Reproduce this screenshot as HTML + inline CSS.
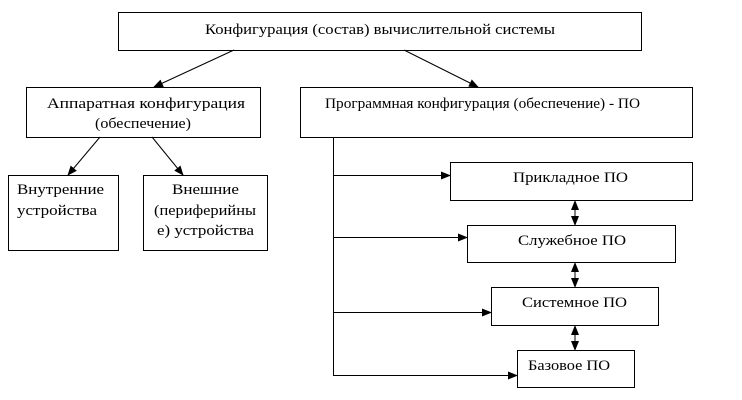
<!DOCTYPE html>
<html><head><meta charset="utf-8"><style>html,body{margin:0;padding:0;background:#fff}svg{display:block}text{font-family:"Liberation Serif",serif;font-size:15px;fill:#000}</style></head>
<body>
<svg width="742" height="400" viewBox="0 0 742 400" xmlns="http://www.w3.org/2000/svg">
<defs><marker id="a" markerWidth="10" markerHeight="8" refX="9" refY="4" orient="auto" markerUnits="userSpaceOnUse"><path d="M0,0 L10,4 L0,8 z" fill="#000"/></marker>
<marker id="s" markerWidth="10" markerHeight="8" refX="1" refY="4" orient="auto" markerUnits="userSpaceOnUse"><path d="M10,0 L0,4 L10,8 z" fill="#000"/></marker></defs>
<g fill="none" stroke="#000" stroke-width="1">
<rect x="118.5" y="12.5" width="523" height="38"/>
<rect x="26.5" y="87.5" width="234" height="50"/>
<rect x="300.5" y="87.5" width="392" height="50"/>
<rect x="8.5" y="175.5" width="110" height="75"/>
<rect x="143.5" y="175.5" width="124" height="75"/>
<rect x="450.5" y="162.5" width="242" height="38"/>
<rect x="467.5" y="225.5" width="208" height="37"/>
<rect x="491.5" y="287.5" width="167" height="38"/>
<rect x="517.5" y="350.5" width="117" height="37"/>
<line x1="234" y1="50" x2="154" y2="87" marker-end="url(#a)"/>
<line x1="404" y1="50" x2="478" y2="87" marker-end="url(#a)"/>
<line x1="100" y1="137" x2="68" y2="175" marker-end="url(#a)"/>
<line x1="152" y1="137" x2="183" y2="175" marker-end="url(#a)"/>
<line x1="333.5" y1="137" x2="333.5" y2="375.5"/>
<line x1="333" y1="175.5" x2="450" y2="175.5" marker-end="url(#a)"/>
<line x1="333" y1="237.5" x2="467" y2="237.5" marker-end="url(#a)"/>
<line x1="333" y1="312.5" x2="491" y2="312.5" marker-end="url(#a)"/>
<line x1="333" y1="375.5" x2="517" y2="375.5" marker-end="url(#a)"/>
<line x1="575" y1="201" x2="575" y2="225" marker-start="url(#s)" marker-end="url(#a)"/>
<line x1="575" y1="263" x2="575" y2="287" marker-start="url(#s)" marker-end="url(#a)"/>
<line x1="575" y1="326" x2="575" y2="350" marker-start="url(#s)" marker-end="url(#a)"/>
</g>
<g>
<text x="205" y="34" textLength="350" lengthAdjust="spacingAndGlyphs">Конфигурация (состав) вычислительной системы</text>
<text x="47" y="108" textLength="198" lengthAdjust="spacingAndGlyphs">Аппаратная конфигурация</text>
<text x="95" y="128" textLength="96" lengthAdjust="spacingAndGlyphs">(обеспечение)</text>
<text x="325" y="108" textLength="315" lengthAdjust="spacingAndGlyphs">Программная конфигурация (обеспечение) - ПО</text>
<text x="17" y="194" textLength="87" lengthAdjust="spacingAndGlyphs">Внутренние</text>
<text x="17" y="215" textLength="80" lengthAdjust="spacingAndGlyphs">устройства</text>
<text x="172" y="194" textLength="67" lengthAdjust="spacingAndGlyphs">Внешние</text>
<text x="154" y="215" textLength="102" lengthAdjust="spacingAndGlyphs">(периферийны</text>
<text x="157" y="235" textLength="97" lengthAdjust="spacingAndGlyphs">е) устройства</text>
<text x="513" y="182" textLength="115" lengthAdjust="spacingAndGlyphs">Прикладное ПО</text>
<text x="518" y="245" textLength="108" lengthAdjust="spacingAndGlyphs">Служебное ПО</text>
<text x="522" y="307" textLength="105" lengthAdjust="spacingAndGlyphs">Системное ПО</text>
<text x="528" y="370" textLength="82" lengthAdjust="spacingAndGlyphs">Базовое ПО</text>
</g>
</svg>
</body></html>
